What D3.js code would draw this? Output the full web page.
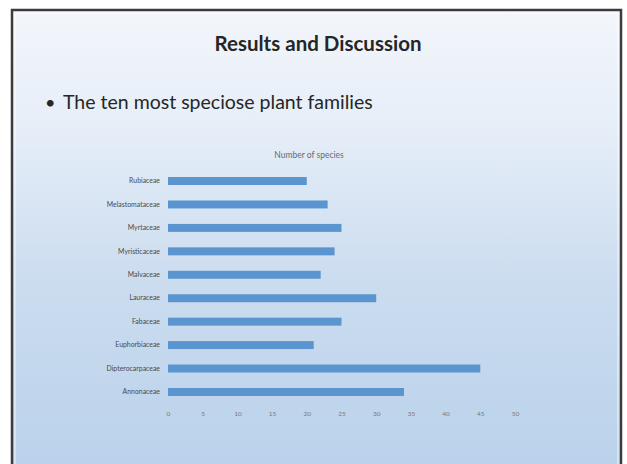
<!DOCTYPE html>
<html>
<head>
<meta charset="utf-8">
<script src="https://cdn.jsdelivr.net/npm/d3@7"></script>
<style>
  html, body { margin: 0; padding: 0; background: #ffffff; }
  svg { display: block; }
</style>
</head>
<body>
<svg id="slide" width="627" height="464"></svg>
<script>
// Plant families, bottom to top as listed in the source table
const families = [
  "Annonaceae", "Dipterocarpaceae", "Euphorbiaceae", "Fabaceae", "Lauraceae",
  "Malvaceae", "Myristicaceae", "Myrtaceae", "Melastomataceae", "Rubiaceae"
];
// Number of species per family
const speciesCounts = [34, 45, 21, 25, 30, 22, 24, 25, 23, 20];
// Axis tick values
const xTicks = [0, 5, 10, 15, 20, 25, 30, 35, 40, 45, 50];

const font = "Lato, 'Open Sans', 'DejaVu Sans', sans-serif";
const svg = d3.select("#slide");
const W = 627, H = 464;

// Slide background gradient
const defs = svg.append("defs");
const grad = defs.append("linearGradient")
  .attr("id", "bg").attr("x1", 0).attr("y1", 0).attr("x2", 0).attr("y2", 1);
grad.append("stop").attr("offset", "0%").attr("stop-color", "#f3f6fb");
grad.append("stop").attr("offset", "25%").attr("stop-color", "#e6eef8");
grad.append("stop").attr("offset", "60%").attr("stop-color", "#cbdcef");
grad.append("stop").attr("offset", "100%").attr("stop-color", "#bad2eb");

svg.append("rect").attr("x", 0).attr("y", 0).attr("width", W).attr("height", H).attr("fill", "#ffffff");
svg.append("rect")
  .attr("x", 12).attr("y", 10).attr("width", 609).attr("height", H - 8)
  .attr("fill", "url(#bg)");
// Slide frame
svg.append("path")
  .attr("d", `M12,${H} L12,10 L621,10 L621,${H}`)
  .attr("fill", "none").attr("stroke", "#3c3c3c").attr("stroke-width", 2.5);
svg.append("path")
  .attr("d", `M15,${H} L15,13 L618,13 L618,${H}`)
  .attr("fill", "none").attr("stroke", "#ffffff").attr("stroke-opacity", 0.5).attr("stroke-width", 1.5);

// Slide heading
svg.append("text")
  .attr("x", 318).attr("y", 51)
  .attr("text-anchor", "middle")
  .attr("font-family", font).attr("font-weight", "bold").attr("font-size", 20.5)
  .attr("fill", "#262626")
  .text("Results and Discussion");

// Bullet point
svg.append("text")
  .attr("x", 45).attr("y", 109)
  .attr("font-family", font).attr("font-size", 18)
  .attr("fill", "#262626")
  .text("\u2022");
svg.append("text")
  .attr("x", 63).attr("y", 109)
  .attr("font-family", font).attr("font-size", 19.5)
  .attr("fill", "#262626")
  .text("The ten most speciose plant families");

// Chart scales
const x = d3.scaleLinear().domain([0, 50]).range([168, 515]);
const y = d3.scaleBand()
  .domain(families.slice().reverse())
  .range([169.3, 403.7])
  .paddingInner(0.66)
  .paddingOuter(0.33);

// Chart title
svg.append("text")
  .attr("x", 309).attr("y", 158)
  .attr("text-anchor", "middle")
  .attr("font-family", font).attr("font-size", 8.5)
  .attr("fill", "#6a6a6a")
  .text("Number of species");

// Bars
svg.append("g")
  .selectAll("rect")
  .data(families.map((f, i) => ({ family: f, value: speciesCounts[i] })))
  .join("rect")
  .attr("x", x(0))
  .attr("y", d => y(d.family))
  .attr("width", d => x(d.value) - x(0))
  .attr("height", y.bandwidth())
  .attr("fill", "#5a95d0");

// Category axis
const yAxis = svg.append("g")
  .attr("transform", `translate(${x(0) - 2},0)`)
  .call(d3.axisLeft(y).tickSize(0).tickPadding(6));
yAxis.select(".domain").remove();
yAxis.selectAll("text")
  .attr("font-family", font).attr("font-size", 6.9)
  .attr("fill", "#4a4a4a");

// Value axis
const xAxis = svg.append("g")
  .attr("transform", "translate(0,405)")
  .call(d3.axisBottom(x).tickValues(xTicks).tickSize(0).tickPadding(6));
xAxis.select(".domain").remove();
xAxis.selectAll("text")
  .attr("font-family", font).attr("font-size", 6.5)
  .attr("fill", "#7a7a7a");
</script>
</body>
</html>
